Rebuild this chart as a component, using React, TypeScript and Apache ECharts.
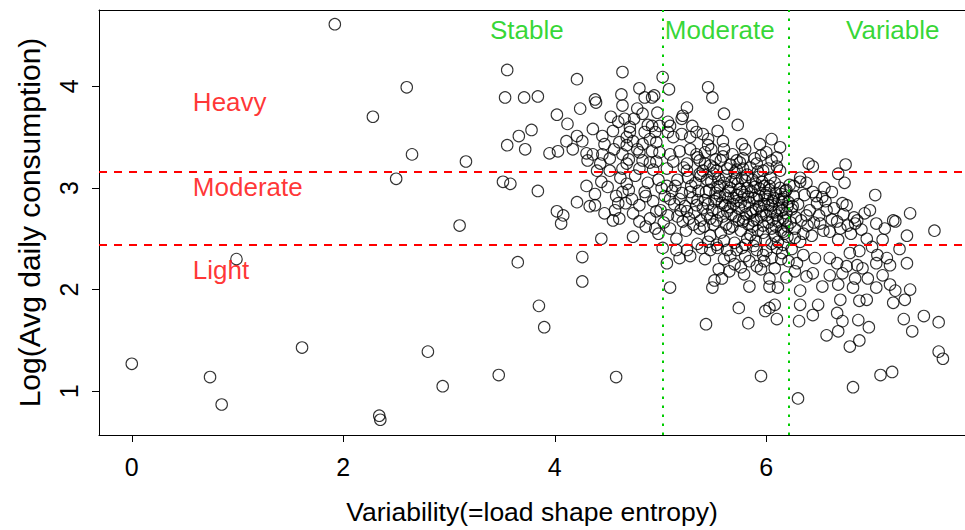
import React, { useEffect, useRef } from "react";
import * as echarts from "echarts";

const FONT = "'Liberation Sans', Arial, Helvetica, sans-serif";

// x tick labels and y tick labels
const xTicks = [0, 2, 4, 6];
const yTicks = [1, 2, 3, 4];

// thresholds
const consumptionCuts = [3.156, 2.44];
const variabilityCuts = [5.02, 6.21];

// annotations [x, y, text]
const consumptionLabels: [number, number, string][] = [
  [0.577, 3.844, "Heavy"],
  [0.577, 3.014, "Moderate"],
  [0.577, 2.193, "Light"],
];
const variabilityLabels: [number, number, string][] = [
  [3.735, 4.557, "Stable"],
  [5.56, 4.557, "Moderate"],
  [7.196, 4.557, "Variable"],
];

// households: [entropy, log avg daily consumption]
const sparsePoints: number[][] = [
  [0.0, 1.27], [0.74, 1.14], [0.85, 0.87], [0.99, 2.3], [1.61, 1.43], [1.92, 4.61],
  [2.28, 3.7], [2.34, 0.76], [2.35, 0.72], [2.5, 3.09], [2.6, 3.99], [2.65, 3.33],
  [2.8, 1.39], [2.94, 1.05], [3.1, 2.63], [3.16, 3.26], [3.47, 1.16], [3.55, 4.16],
  [3.53, 3.89], [3.71, 3.89], [3.84, 3.9], [3.51, 3.06], [3.58, 3.04], [3.65, 2.27],
  [3.84, 2.97], [3.85, 1.84], [3.9, 1.63], [3.78, 3.57], [3.66, 3.51], [3.55, 3.42],
  [3.72, 3.38],
];

const stablePoints: number[][] = [
  [4.21, 4.07], [4.02, 3.72], [4.12, 3.63], [4.24, 3.78], [3.95, 3.34], [4.03, 3.36],
  [4.17, 3.38], [4.11, 3.46], [4.21, 3.51], [4.26, 3.46], [4.3, 3.34], [4.31, 3.27],
  [4.02, 2.77], [4.08, 2.73], [4.06, 2.65], [4.21, 2.86], [4.3, 3.02], [4.26, 2.32],
  [4.26, 2.08], [4.33, 2.82], [4.58, 1.14],
  [4.64, 4.14], [4.8, 3.98], [4.63, 3.92], [4.85, 3.89], [4.92, 3.89], [4.94, 3.91],
  [4.38, 3.87], [4.39, 3.84], [4.64, 3.81], [4.78, 3.78], [4.83, 3.73], [4.97, 3.74],
  [4.53, 3.7], [4.66, 3.68], [4.99, 3.61], [4.92, 3.61], [4.71, 3.6], [4.71, 3.55],
  [4.85, 3.55], [4.95, 3.55], [4.36, 3.58], [4.45, 3.51], [4.61, 3.45], [4.74, 3.46],
  [4.83, 3.43], [4.96, 3.45], [4.47, 3.43], [4.45, 3.33], [4.36, 3.33], [4.64, 3.33],
  [4.8, 3.35], [4.92, 3.36], [4.99, 3.35], [4.43, 3.24], [4.68, 3.24], [4.83, 3.27],
  [4.96, 3.26], [4.64, 3.19], [4.52, 3.17], [4.4, 3.17], [4.8, 3.19],
  [4.44, 3.06], [4.38, 2.94], [4.38, 2.83], [4.47, 2.75], [4.55, 2.68], [4.61, 2.7],
  [4.64, 2.96], [4.68, 3.04], [4.73, 2.89], [4.74, 2.75], [4.8, 2.67], [4.8, 2.83],
  [4.85, 2.96], [4.93, 2.87], [4.96, 2.77], [4.95, 2.6], [4.74, 2.52], [4.44, 2.5],
  [4.5, 3.01], [4.58, 2.92], [4.62, 3.1], [4.7, 2.98], [4.76, 3.12], [4.88, 3.05],
  [4.9, 2.7], [4.86, 2.62], [4.57, 2.78], [4.67, 2.85], [4.93, 3.18], [4.7, 3.28],
  [4.52, 3.29], [4.98, 2.55], [5.01, 3.0], [5.0, 2.78],
  [4.55, 3.56], [4.6, 3.65], [4.68, 3.5], [4.75, 3.68], [4.88, 3.62], [4.9, 3.48],
  [4.78, 3.38], [4.56, 3.38], [4.9, 3.25], [4.68, 3.42], [4.98, 3.08], [4.86, 2.92],
  [4.6, 2.85],
];

const moderatePoints: number[][] = [
  [5.02, 4.09], [5.08, 3.97], [5.45, 3.99], [5.49, 3.89], [5.25, 3.79], [5.21, 3.71],
  [5.2, 3.68], [5.6, 3.73], [5.73, 3.62], [5.07, 3.65], [5.09, 3.61], [5.3, 3.61],
  [5.07, 3.55], [5.12, 3.5], [5.2, 3.53], [5.28, 3.5], [5.34, 3.55], [5.4, 3.53],
  [5.45, 3.48], [5.54, 3.56], [5.59, 3.46], [5.77, 3.43], [5.94, 3.43], [6.05, 3.48],
  [6.0, 3.35], [5.09, 3.33], [5.18, 3.36], [5.28, 3.38], [5.34, 3.33], [5.42, 3.35],
  [5.48, 3.38], [5.59, 3.31], [5.72, 3.27], [5.78, 3.29], [5.91, 3.24], [6.05, 3.27],
  [6.1, 3.21], [5.12, 3.26], [5.25, 3.24], [5.37, 3.27], [5.47, 3.22], [5.63, 3.19],
  [5.78, 3.19], [5.97, 3.17], [5.06, 3.19], [5.25, 3.17], [5.4, 3.17], [5.53, 3.17],
  [6.13, 3.4], [6.13, 3.17],
  [5.06, 3.02], [5.09, 2.89], [5.07, 2.73], [5.09, 2.6], [5.15, 2.5], [5.21, 2.67],
  [5.25, 2.77], [5.18, 2.89], [5.28, 2.96], [5.34, 2.83], [5.37, 2.6], [5.47, 2.53],
  [5.47, 2.7], [5.53, 2.89], [5.56, 3.02], [5.63, 2.77], [5.65, 2.6], [5.72, 2.87],
  [5.75, 2.99], [5.78, 2.67], [5.82, 2.5], [5.87, 2.77], [5.91, 2.89], [5.97, 2.63],
  [6.03, 3.02], [6.05, 2.83], [6.08, 2.53], [6.1, 2.73],
  [5.02, 2.41], [5.06, 2.26], [5.09, 2.02], [5.18, 2.31], [5.28, 2.33], [5.25, 2.39],
  [5.15, 2.39], [5.65, 2.18], [5.58, 2.11], [5.51, 2.09], [5.49, 2.02], [5.84, 2.03],
  [5.8, 2.33], [5.84, 2.28], [5.91, 2.23], [5.77, 2.41], [5.97, 2.34], [6.03, 2.11],
  [6.08, 2.21], [6.05, 2.31], [6.03, 2.03], [6.11, 2.02], [5.39, 2.41], [5.47, 2.39],
  [5.54, 2.41], [5.63, 2.39], [5.72, 2.39], [5.91, 2.39], [6.1, 2.41],
  [5.43, 1.66], [5.74, 1.82], [5.83, 1.67], [5.95, 1.15], [5.99, 1.79], [6.03, 1.82],
  [6.08, 1.85], [6.1, 1.71],
  [5.52, 2.95], [5.58, 2.85], [5.61, 2.93], [5.66, 2.81], [5.69, 2.9], [5.71, 2.72],
  [5.74, 2.8], [5.79, 2.93], [5.81, 2.74], [5.84, 2.86], [5.86, 2.96], [5.88, 2.68],
  [5.9, 2.79], [5.93, 2.92], [5.95, 2.72], [5.98, 2.84], [6.0, 2.95], [6.02, 2.66],
  [6.04, 2.77], [6.07, 2.9], [6.09, 2.62], [6.12, 2.8], [6.14, 2.94], [6.17, 2.55],
  [6.19, 2.75], [5.42, 2.88], [5.44, 2.74], [5.46, 2.98], [5.5, 2.64], [5.55, 2.76],
  [5.57, 2.56], [5.6, 3.05], [5.64, 2.97], [5.68, 2.62], [5.73, 3.04], [5.76, 2.58],
  [5.8, 3.07], [5.83, 2.64], [5.85, 2.54], [5.89, 3.01], [5.92, 2.58], [5.96, 3.06],
  [5.99, 2.49], [6.01, 2.89], [6.06, 2.69], [6.11, 2.47], [6.13, 3.0], [6.15, 2.86],
  [6.18, 2.97], [6.2, 2.52], [5.2, 2.95], [5.23, 2.82], [5.27, 2.7], [5.3, 2.9],
  [5.32, 2.76], [5.36, 2.97], [5.38, 2.68], [5.4, 2.8], [5.13, 2.84], [5.16, 2.72],
  [5.11, 2.97], [5.04, 2.92], [5.03, 2.66], [5.33, 3.05], [5.38, 3.12], [5.44, 3.08],
  [5.5, 3.14], [5.55, 3.09], [5.62, 3.12], [5.67, 3.06], [5.7, 3.15], [5.77, 3.1],
  [5.82, 3.13], [5.87, 3.08], [5.93, 3.11], [5.98, 3.02], [6.04, 3.1], [6.08, 3.05],
  [5.26, 3.1], [5.16, 3.08], [5.22, 3.2], [5.42, 3.24], [5.57, 3.27], [5.66, 3.23],
  [5.85, 3.2], [5.6, 2.3], [5.7, 2.25], [5.79, 2.15], [5.88, 2.43], [5.95, 2.2],
  [6.0, 2.38], [6.14, 2.3], [6.19, 2.12], [5.55, 2.2], [5.42, 2.3], [5.53, 2.44],
  [6.16, 2.44],
  [5.14, 3.02], [5.19, 2.78], [5.24, 2.58], [5.29, 3.02], [5.31, 2.64], [5.35, 2.88],
  [5.37, 3.14], [5.41, 2.62], [5.43, 2.96], [5.45, 2.84], [5.48, 3.06], [5.49, 2.78],
  [5.51, 2.87], [5.53, 2.68], [5.54, 3.01], [5.56, 2.92], [5.59, 2.72], [5.61, 2.83],
  [5.62, 2.64], [5.64, 2.9], [5.66, 3.0], [5.67, 2.74], [5.69, 2.84], [5.71, 3.09],
  [5.72, 2.93], [5.74, 2.68], [5.76, 2.86], [5.77, 2.96], [5.79, 2.7], [5.8, 2.82],
  [5.82, 3.0], [5.83, 2.91], [5.85, 2.75], [5.87, 2.62], [5.88, 2.9], [5.9, 3.04],
  [5.91, 2.69], [5.93, 2.82], [5.94, 2.99], [5.96, 2.77], [5.97, 2.56], [5.99, 2.93],
  [6.0, 2.73], [6.02, 2.83], [6.03, 2.98], [6.05, 2.6], [6.06, 2.87], [6.08, 2.76],
  [6.09, 2.95], [6.11, 2.67], [6.12, 2.88], [6.14, 2.58], [6.15, 2.78], [6.17, 2.91],
  [6.18, 2.68], [6.2, 2.82], [6.2, 2.62], [6.19, 2.98],
  [5.35, 3.3], [5.45, 3.42], [5.52, 3.28], [5.6, 3.38], [5.68, 3.33], [5.75, 3.25],
  [5.8, 3.38], [5.89, 3.29], [5.95, 3.32], [6.02, 3.19], [6.1, 3.3], [5.5, 3.2],
  [5.72, 3.18], [5.92, 3.16],
  [5.35, 2.45], [5.45, 2.47], [5.6, 2.48], [5.7, 2.46], [5.8, 2.44], [5.9, 2.48],
  [6.05, 2.45], [6.15, 2.36], [5.66, 2.33], [5.76, 2.22], [5.98, 2.28],
];

const variablePoints: number[][] = [
  [6.4, 3.24], [6.44, 3.21], [6.75, 3.23], [6.68, 3.14], [6.32, 3.1],
  [6.32, 3.06], [6.74, 3.05], [7.03, 2.93], [6.72, 2.85], [6.76, 2.83], [6.98, 2.78],
  [6.93, 2.75], [6.86, 2.68], [7.04, 2.65], [6.9, 2.59], [7.2, 2.68], [7.22, 2.67],
  [7.36, 2.75], [7.33, 2.53], [7.59, 2.58], [7.1, 2.49], [6.84, 2.65], [6.77, 2.63],
  [6.67, 2.67], [6.62, 2.96], [6.53, 2.91], [6.44, 2.96], [6.57, 2.78], [6.48, 2.85],
  [6.38, 2.73], [6.39, 2.63], [6.51, 2.65], [6.6, 2.57], [6.43, 2.53], [6.68, 2.49],
  [6.32, 2.47], [6.25, 2.82], [6.27, 2.6], [6.16, 2.7], [6.16, 2.89], [6.16, 2.57],
  [6.79, 2.36], [6.88, 2.38], [7.05, 2.34], [7.14, 2.31], [7.04, 2.26], [7.17, 2.24],
  [7.33, 2.26], [6.6, 2.31], [6.67, 2.26], [6.76, 2.23], [6.86, 2.24], [6.91, 2.21],
  [6.46, 2.31], [6.35, 2.34], [6.29, 2.26], [6.44, 2.16], [6.6, 2.14], [6.72, 2.16],
  [6.84, 2.11], [6.96, 2.11], [7.1, 2.14], [7.17, 2.05], [7.04, 2.02], [6.53, 2.03],
  [6.68, 2.05], [6.38, 2.13], [6.32, 1.99], [7.22, 1.99], [7.36, 2.0], [6.82, 2.02],
  [6.3, 0.93], [6.82, 1.04], [7.08, 1.16], [7.19, 1.19], [6.79, 1.44], [6.88, 1.5],
  [6.57, 1.55], [6.68, 1.59], [6.67, 1.77], [6.72, 1.69], [6.31, 1.69], [6.44, 1.75],
  [6.32, 1.85], [6.49, 1.85], [6.87, 1.7], [6.97, 1.63], [7.3, 1.71], [7.38, 1.59],
  [7.49, 1.74], [7.63, 1.68], [7.63, 1.39], [7.67, 1.32], [6.7, 1.9], [6.88, 1.89],
  [6.95, 1.9], [7.2, 1.87], [7.31, 1.9],
  [6.21, 2.86], [6.22, 3.03], [6.24, 2.79], [6.27, 2.51], [6.23, 2.66], [6.26, 2.92],
  [6.28, 2.71], [6.21, 2.28], [6.24, 2.4], [6.27, 2.18],
  [6.3, 2.84], [6.33, 2.68], [6.36, 2.93], [6.35, 2.55], [6.41, 2.78], [6.45, 2.66],
  [6.47, 2.92], [6.5, 2.73], [6.54, 2.58], [6.56, 2.87], [6.62, 2.69], [6.64, 2.8],
  [6.7, 2.6], [6.73, 2.74], [6.8, 2.55], [6.83, 2.71], [6.95, 2.5], [7.0, 2.42],
  [7.12, 2.6], [7.26, 2.4], [6.26, 3.02], [6.38, 3.05], [6.55, 3.0],
];

const allPoints = [...sparsePoints, ...stablePoints, ...moderatePoints, ...variablePoints];

const X_MIN = -0.31;
const X_MAX = 7.879;

export default function App() {
  const ref = useRef<HTMLDivElement>(null);
  useEffect(() => {
    if (!ref.current) return;
    const chart = echarts.init(ref.current, null, { renderer: "svg" });
    const axisText = { color: "#000", fontFamily: FONT };
    chart.setOption({
      animation: false,
      backgroundColor: "#fff",
      textStyle: { fontFamily: FONT },
      grid: { left: 99, top: 10, right: 0, height: 428, show: false },
      xAxis: [
        {
          type: "value",
          min: X_MIN,
          max: X_MAX,
          name: "Variability(=load shape entropy)",
          nameLocation: "middle",
          nameGap: 63,
          nameTextStyle: { ...axisText, fontSize: 26.5 },
          axisLine: { show: true, onZero: false, lineStyle: { color: "#000", width: 1 } },
          axisTick: { show: true, customValues: xTicks, length: 7, lineStyle: { color: "#000" } },
          axisLabel: { ...axisText, customValues: xTicks, fontSize: 25, margin: 19 },
          splitLine: { show: false },
        },
        {
          type: "value",
          position: "top",
          min: X_MIN,
          max: X_MAX,
          axisLine: { show: true, onZero: false, lineStyle: { color: "#000", width: 1 } },
          axisTick: { show: false },
          axisLabel: { show: false },
          splitLine: { show: false },
        },
      ],
      yAxis: {
        type: "value",
        min: 0.57,
        max: 4.75,
        name: "Log(Avg daily consumption)",
        nameLocation: "middle",
        nameGap: 55,
        nameRotate: 90,
        nameTextStyle: { ...axisText, fontSize: 30 },
        axisLine: { show: true, onZero: false, lineStyle: { color: "#000", width: 1 } },
        axisTick: { show: true, customValues: yTicks, length: 7, lineStyle: { color: "#000" } },
        axisLabel: { ...axisText, customValues: yTicks, fontSize: 25, margin: 18, rotate: 90 },
        splitLine: { show: false },
      },
      series: [
        {
          type: "scatter",
          xAxisIndex: 0,
          data: allPoints,
          symbol: "circle",
          symbolSize: 11.5,
          silent: true,
          itemStyle: { color: "rgba(0,0,0,0)", borderColor: "#000", borderWidth: 1.1 },
          markLine: {
            silent: true,
            symbol: ["none", "none"],
            label: { show: false },
            data: [
              ...consumptionCuts.map((v) => ({
                yAxis: v,
                lineStyle: { color: "#ff0000", width: 2, type: [8, 7] },
              })),
              ...variabilityCuts.map((v) => ({
                xAxis: v,
                lineStyle: { color: "#00cc00", width: 2, type: [2.5, 6.5] },
              })),
            ],
          },
        },
        {
          type: "scatter",
          xAxisIndex: 0,
          silent: true,
          symbolSize: 0.1,
          itemStyle: { color: "rgba(0,0,0,0)" },
          data: consumptionLabels.map((d) => ({ value: [d[0], d[1]], name: d[2] })),
          label: {
            show: true,
            position: "right",
            distance: 0,
            formatter: (p: any) => p.name,
            color: "#ff0000",
            fontSize: 26,
            fontFamily: FONT,
          },
        },
        {
          type: "scatter",
          xAxisIndex: 0,
          silent: true,
          symbolSize: 0.1,
          itemStyle: { color: "rgba(0,0,0,0)" },
          data: variabilityLabels.map((d) => ({ value: [d[0], d[1]], name: d[2] })),
          label: {
            show: true,
            position: "inside",
            formatter: (p: any) => p.name,
            color: "#00cc00",
            fontSize: 26,
            fontFamily: FONT,
          },
        },
      ],
    });
    return () => chart.dispose();
  }, []);
  return (
    <div
      ref={ref}
      style={{ position: "absolute", left: 0, top: 0, width: 965, height: 530, background: "#fff" }}
    />
  );
}
